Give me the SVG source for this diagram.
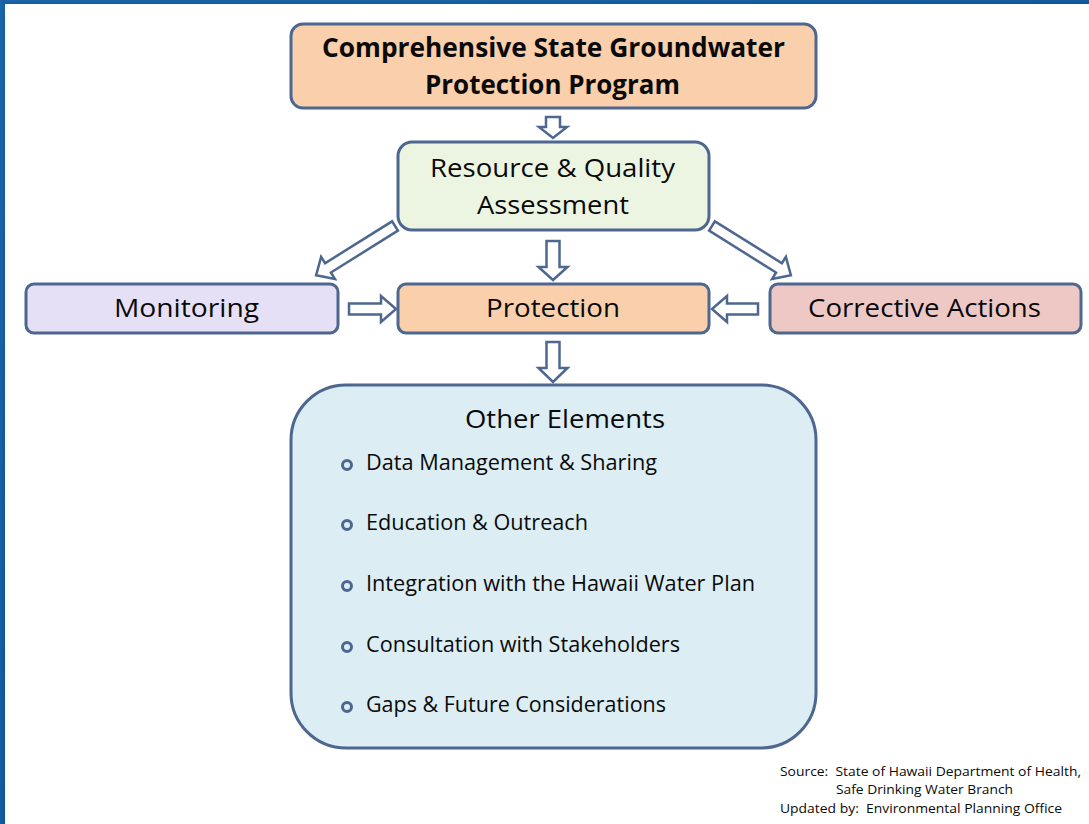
<svg xmlns="http://www.w3.org/2000/svg" width="1089" height="824" viewBox="0 0 1089 824">
  <defs>
    <linearGradient id="frame" x1="0" y1="0" x2="1" y2="1">
      <stop offset="0" stop-color="#1D66AA"/>
      <stop offset="1" stop-color="#0F5397"/>
    </linearGradient>
    <style>
      .box { stroke: #4D6790; stroke-width: 3; }
      .arrow { fill: #FFFFFF; stroke: #4D6790; stroke-width: 2.5; stroke-linejoin: miter; }
      .t { font-family: "Open Sans", "Liberation Sans", sans-serif; fill: #0A0A0A; }
      .big { font-size: 26px; }
      .bold { font-weight: bold; }
      .item { font-size: 22px; }
      .foot { font-size: 13px; }
      .bullet { fill: none; stroke: #4D6790; stroke-width: 3; }
    </style>
  </defs>
  <rect x="0" y="0" width="1089" height="824" fill="#FFFFFF"/>
  <g id="frame-border">
    <rect x="0" y="0" width="1089" height="4" fill="url(#frame)"/>
    <rect x="0" y="0" width="5" height="824" fill="url(#frame)"/>
  </g>

  <g id="connectors">
    <path class="arrow" transform="translate(553,117) rotate(90)" d="M0,-7 H10 V-14 L21,0 L10,14 V7 H0 Z"/>
    <path class="arrow" transform="translate(553,241) rotate(90)" d="M0,-6.5 H26 V-14.5 L39,0 L26,14.5 V6.5 H0 Z"/>
    <path class="arrow" transform="translate(553,342) rotate(90)" d="M0,-6.5 H26 V-14.5 L40,0 L26,14.5 V6.5 H0 Z"/>
    <path class="arrow" transform="translate(395,226) rotate(148)" d="M0,-5.5 H79 V-13 L93,0 L79,13 V5.5 H0 Z"/>
    <path class="arrow" transform="translate(712,226) rotate(32)" d="M0,-5.5 H79 V-13 L93,0 L79,13 V5.5 H0 Z"/>
    <path class="arrow" transform="translate(349,309)" d="M0,-5.5 H32 V-13 L47,0 L32,13 V5.5 H0 Z"/>
    <path class="arrow" transform="translate(758,309) rotate(180)" d="M0,-5.5 H31 V-13 L46,0 L31,13 V5.5 H0 Z"/>
  </g>

  <g id="node-program">
    <rect class="box" x="291" y="24" width="525" height="84" rx="12" fill="#FAD0AC"/>
    <text class="t big bold" x="322" y="57" textLength="463" lengthAdjust="spacingAndGlyphs">Comprehensive State Groundwater</text>
    <text class="t big bold" x="425" y="94" textLength="255" lengthAdjust="spacingAndGlyphs">Protection Program</text>
  </g>

  <g id="node-assessment">
    <rect class="box" x="398" y="142" width="311" height="88" rx="14" fill="#EBF5E1"/>
    <text class="t big" x="430" y="177" textLength="245" lengthAdjust="spacingAndGlyphs">Resource &amp; Quality</text>
    <text class="t big" x="477" y="214" textLength="152" lengthAdjust="spacingAndGlyphs">Assessment</text>
  </g>

  <g id="node-monitoring">
    <rect class="box" x="26" y="284" width="312" height="49" rx="8" fill="#E5E0F6"/>
    <text class="t big" x="114" y="317" textLength="145" lengthAdjust="spacingAndGlyphs">Monitoring</text>
  </g>

  <g id="node-protection">
    <rect class="box" x="398" y="284" width="311" height="49" rx="8" fill="#FAD0AC"/>
    <text class="t big" x="486" y="317" textLength="134" lengthAdjust="spacingAndGlyphs">Protection</text>
  </g>

  <g id="node-corrective">
    <rect class="box" x="770" y="284" width="311" height="49" rx="8" fill="#EEC8C5"/>
    <text class="t big" x="808" y="317" textLength="233" lengthAdjust="spacingAndGlyphs">Corrective Actions</text>
  </g>

  <g id="node-other">
    <rect class="box" x="291" y="385" width="525" height="363" rx="55" fill="#DCEEF4"/>
    <text class="t big" x="465" y="428" textLength="200" lengthAdjust="spacingAndGlyphs">Other Elements</text>
    <circle class="bullet" cx="347" cy="465" r="4.5"/>
    <text class="t item" x="366" y="470" textLength="291" lengthAdjust="spacingAndGlyphs">Data Management &amp; Sharing</text>
    <circle class="bullet" cx="347" cy="525" r="4.5"/>
    <text class="t item" x="366" y="530" textLength="222" lengthAdjust="spacingAndGlyphs">Education &amp; Outreach</text>
    <circle class="bullet" cx="347" cy="586" r="4.5"/>
    <text class="t item" x="366" y="591" textLength="389" lengthAdjust="spacingAndGlyphs">Integration with the Hawaii Water Plan</text>
    <circle class="bullet" cx="347" cy="647" r="4.5"/>
    <text class="t item" x="366" y="652" textLength="314" lengthAdjust="spacingAndGlyphs">Consultation with Stakeholders</text>
    <circle class="bullet" cx="347" cy="707" r="4.5"/>
    <text class="t item" x="366" y="712" textLength="300" lengthAdjust="spacingAndGlyphs">Gaps &amp; Future Considerations</text>
  </g>

  <g id="footer">
    <text class="t foot" x="780" y="776" textLength="301" lengthAdjust="spacingAndGlyphs" xml:space="preserve">Source:  State of Hawaii Department of Health,</text>
    <text class="t foot" x="836" y="794" textLength="177" lengthAdjust="spacingAndGlyphs">Safe Drinking Water Branch</text>
    <text class="t foot" x="780" y="813" textLength="282" lengthAdjust="spacingAndGlyphs" xml:space="preserve">Updated by:  Environmental Planning Office</text>
  </g>
</svg>
